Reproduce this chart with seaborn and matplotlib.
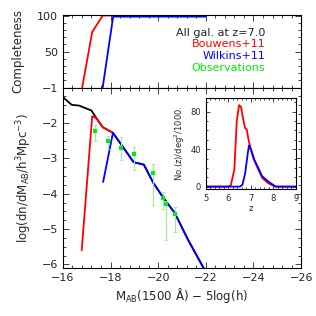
import matplotlib
matplotlib.use('Agg')
import matplotlib.pyplot as plt
import seaborn as sns
import numpy as np
from matplotlib.ticker import MultipleLocator

# completeness (top panel)
comp_red_m = [-16.81, -17.23, -17.67, -22.0]
comp_red_v = [0, 77, 100, 100]
comp_blue_m = [-17.67, -18.11, -22.0]
comp_blue_v = [0, 98.5, 98.5]

# luminosity function (bottom panel)
all_m = [-16.0, -16.37, -16.68, -17.2, -17.42, -17.67, -18.1, -18.97, -19.4, -19.8, -20.2, -20.7, -21.25, -21.92, -22.1]
all_v = [-1.27, -1.49, -1.51, -1.65, -1.88, -2.12, -2.28, -3.11, -3.18, -3.7, -4.1, -4.55, -5.3, -6.12, -6.35]
bouw_m = [-16.79, -17.23, -17.42, -17.67, -18.1]
bouw_v = [-5.6, -1.81, -1.88, -2.12, -2.28]
wilk_m = [-17.69, -18.1, -18.97, -19.4, -19.8, -20.2, -20.7, -21.25, -21.92, -22.1]
wilk_v = [-3.67, -2.28, -3.11, -3.18, -3.7, -4.1, -4.55, -5.3, -6.12, -6.35]

obs_m = [-17.33, -17.88, -18.42, -18.98, -19.79, -20.22, -20.31, -20.71]
obs_v = [-2.24, -2.50, -2.71, -2.89, -3.42, -4.11, -4.30, -4.57]
obs_hi = [-2.07, -2.36, -2.40, -2.69, -3.16, -3.96, -4.20, -4.37]
obs_lo = [-2.52, -2.73, -3.06, -3.33, -4.33, -4.43, -5.31, -5.09]

# inset: redshift distributions
z_red = [5.0, 5.93, 6.08, 6.12, 6.27, 6.38, 6.48, 6.57, 6.67, 6.75, 6.82, 6.92, 7.12, 7.34, 7.52, 7.78, 8.08, 9.0]
n_red = [0, 0, 0.5, 2, 18, 70, 87, 85, 71, 62.5, 61, 48, 30, 18, 9, 3.6, 0, 0]
z_blue = [5.0, 6.52, 6.63, 6.75, 6.87, 6.92, 7.04, 7.16, 7.34, 7.49, 7.78, 8.08, 8.15, 9.0]
n_blue = [0, 0, 2, 14, 36, 44, 37.5, 28.6, 19.7, 11.5, 5.4, 0.5, 0, 0]

sns.set_style('ticks')
plt.rcParams['font.family'] = ['DejaVu Sans']
plt.rcParams['xtick.direction'] = 'in'
plt.rcParams['ytick.direction'] = 'in'

RED = '#ff0000'
BLUE = '#0000ff'
GREEN = '#00ee00'
LW = 1.3

fig = plt.figure(figsize=(3.16, 3.16), dpi=100)
ax1 = fig.add_axes([0.199, 0.723, 0.754, 0.229])
ax2 = fig.add_axes([0.199, 0.152, 0.754, 0.571])
axi = fig.add_axes([0.651, 0.402, 0.285, 0.289])

def style_ax(ax, fs=8):
    for s in ax.spines.values():
        s.set_linewidth(0.8)
        s.set_color('black')
    ax.tick_params(which='both', direction='in', top=True, right=True, labelsize=fs, width=0.6)
    ax.tick_params(which='major', length=4)
    ax.tick_params(which='minor', length=2)

# top panel
sns.lineplot(x=comp_red_m, y=comp_red_v, color=RED, lw=LW, sort=False, estimator=None, ax=ax1)
sns.lineplot(x=comp_blue_m, y=comp_blue_v, color=BLUE, lw=LW, sort=False, estimator=None, ax=ax1)
ax1.set_xlim(-16, -26)
ax1.set_ylim(0, 100.5)
ax1.set_yticks([50, 100])
ax1.yaxis.set_minor_locator(MultipleLocator(10))
ax1.xaxis.set_major_locator(MultipleLocator(2))
ax1.xaxis.set_minor_locator(MultipleLocator(0.4))
ax1.set_xticklabels([])
ax1.set_ylabel('Completeness', fontsize=8.5)
ax1.yaxis.set_label_coords(-0.16, 0.5)
style_ax(ax1)

labels = ['All gal. at z=7.0', 'Bouwens+11', 'Wilkins+11', 'Observations']
colors = ['#222222', RED, BLUE, GREEN]
for i, (lab, c) in enumerate(zip(labels, colors)):
    ax1.text(0.85, 0.76 - i * 0.165, lab, color=c, fontsize=8, ha='right', va='center',
             transform=ax1.transAxes)

# bottom panel
sns.lineplot(x=all_m, y=all_v, color='black', lw=LW, sort=False, estimator=None, ax=ax2)
sns.lineplot(x=bouw_m, y=bouw_v, color=RED, lw=LW, sort=False, estimator=None, ax=ax2)
sns.lineplot(x=wilk_m, y=wilk_v, color=BLUE, lw=LW, sort=False, estimator=None, ax=ax2)
up = np.array(obs_hi) - np.array(obs_v)
dn = np.array(obs_v) - np.array(obs_lo)
ax2.errorbar(obs_m, obs_v, yerr=[dn, up], fmt='none', ecolor='#99ee99', elinewidth=0.8,
             capsize=1.5, capthick=0.6)
sns.scatterplot(x=obs_m, y=obs_v, color=GREEN, marker='s', s=8, linewidth=0, ax=ax2, zorder=5)
ax2.set_xlim(-16, -26)
ax2.set_ylim(-6.1, -1)
ax2.xaxis.set_minor_locator(MultipleLocator(0.4))
ax2.yaxis.set_major_locator(MultipleLocator(1))
ax2.yaxis.set_minor_locator(MultipleLocator(0.25))
ax2.set_xticks([-16, -18, -20, -22, -24, -26])
ax2.set_xticklabels(['\u221216', '\u221218', '\u221220', '\u221222', '\u221224', '\u221226'])
ax2.set_xlabel('M$_{\\mathregular{AB}}$(1500 \u00c5) \u2212 5log(h)', fontsize=8.5, labelpad=2)
ax2.set_ylabel('log(dn/dM$_{\\mathregular{AB}}$/h$^{\\mathregular{3}}$Mpc$^{\\mathregular{-3}}$)', fontsize=8.5)
ax2.yaxis.set_label_coords(-0.12, 0.5)
style_ax(ax2)

# inset
sns.lineplot(x=z_red, y=n_red, color=RED, lw=LW, sort=False, estimator=None, ax=axi)
sns.lineplot(x=z_blue, y=n_blue, color=BLUE, lw=LW, sort=False, estimator=None, ax=axi)
axi.set_xlim(5, 9)
axi.set_ylim(-2.5, 95)
axi.set_xticks([5, 6, 7, 8, 9])
axi.set_yticks([0, 40, 80])
axi.xaxis.set_minor_locator(MultipleLocator(0.2))
axi.yaxis.set_minor_locator(MultipleLocator(10))
axi.set_xlabel('z', fontsize=6, labelpad=1)
axi.set_ylabel('No.(z)/deg$^{\\mathregular{2}}$/1000.', fontsize=6, labelpad=2)
style_ax(axi, fs=6)
axi.tick_params(which='major', length=3)
axi.tick_params(which='minor', length=1.5)

fig.savefig('out.png', dpi=100)
